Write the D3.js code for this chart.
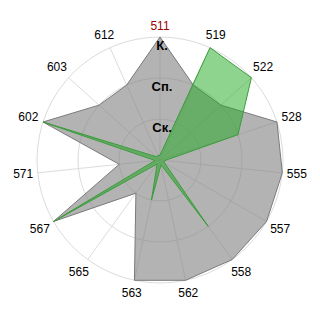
<!DOCTYPE html>
<html>
<head>
<meta charset="utf-8">
<script src="https://cdn.jsdelivr.net/npm/d3@7"></script>
<style>
  body { margin: 0; background: #fff; }
  text { font-family: "Liberation Sans", Arial, sans-serif; }
</style>
</head>
<body>
<svg id="chart"></svg>
<script>
// categories around the circle (clockwise from top)
const categories = ["511", "519", "522", "528", "555", "557", "558", "562", "563", "565", "567", "571", "602", "603", "612"];
// radial levels (1, 2, 3)
const levels = ["Ск.", "Сп.", "К."];
const levelValues = [1, 2, 3];
// series values
const graySeries = [3, 2, 2, 3, 3, 3, 3, 3, 3, 1, 3, 1, 3, 2, 2];
const greenSeries = [0.12, 3, 3, 2, 0.12, 0.12, 2, 0.12, 1, 0.12, 3, 0.12, 3, 0.12, 0.12];

class Radar {
    constructor(svg, width = 320, height = 320) {
        this.svg = svg;
        this.width = width;
        this.height = height;
        this.cx = 160;
        this.cy = 160;
        this.radius = 123;
    }

    initialize() {
        this.svg = d3.select(this.svg)
            .attr("width", this.width)
            .attr("height", this.height);

        this.container = this.svg.append("g")
            .attr("transform", `translate(${this.cx}, ${this.cy})`);

        this.gridLayer = this.container.append("g");
        this.areaLayer = this.container.append("g");
        this.labelLayer = this.container.append("g");

        this.angle = d3.scaleBand()
            .domain(categories)
            .range([0, 2 * Math.PI])
            .paddingInner(0)
            .paddingOuter(0)
            .align(0);

        this.r = d3.scaleLinear().domain([0, 3]).range([0, this.radius]);
    }

    update() {
        const r = this.r;
        const angle = this.angle;

        // rings
        this.gridLayer.selectAll("circle")
            .data(levelValues)
            .join("circle")
            .attr("r", d => r(d))
            .attr("fill", "none")
            .attr("stroke", "#dcdcdc")
            .attr("stroke-width", 1);

        // spokes
        this.gridLayer.selectAll("line")
            .data(categories)
            .join("line")
            .attr("x1", 0).attr("y1", 0)
            .attr("x2", d => Math.sin(angle(d)) * r(3))
            .attr("y2", d => -Math.cos(angle(d)) * r(3))
            .attr("stroke", "#dcdcdc")
            .attr("stroke-width", 1);

        const line = d3.lineRadial()
            .angle((d, i) => angle(categories[i]))
            .radius(d => r(d))
            .curve(d3.curveLinearClosed);

        this.areaLayer.append("path")
            .attr("d", line(graySeries))
            .attr("fill", "rgba(128,128,128,0.6)")
            .attr("stroke", "#7a7a7a")
            .attr("stroke-width", 1);

        this.areaLayer.append("path")
            .attr("d", line(greenSeries))
            .attr("fill", "rgba(30,170,30,0.5)")
            .attr("stroke", "#3c9c3c")
            .attr("stroke-width", 1);

        // category labels
        this.labelLayer.selectAll("text.cat")
            .data(categories)
            .join("text")
            .attr("class", "cat")
            .attr("x", d => {
                const a = angle(d);
                const rr = 128 + Math.abs(Math.sin(a)) * 9 + Math.abs(Math.cos(a)) * 6;
                return Math.sin(a) * rr;
            })
            .attr("y", d => {
                const a = angle(d);
                const rr = 128 + Math.abs(Math.sin(a)) * 9 + Math.abs(Math.cos(a)) * 6;
                return -Math.cos(a) * rr;
            })
            .attr("text-anchor", "middle")
            .attr("dominant-baseline", "central")
            .style("font-size", "12px")
            .attr("fill", (d, i) => i === 0 ? "#990000" : "#000")
            .text(d => d);

        // level labels
        this.labelLayer.selectAll("text.lvl")
            .data(levels)
            .join("text")
            .attr("class", "lvl")
            .attr("x", 2)
            .attr("y", (d, i) => -r(levelValues[i]) + 12.5)
            .attr("text-anchor", "middle")
            .style("font-size", "13px")
            .style("font-weight", "bold")
            .attr("fill", "#000")
            .text(d => d);
    }
}

const radar = new Radar("#chart");
radar.initialize();
radar.update();
</script>
</body>
</html>
